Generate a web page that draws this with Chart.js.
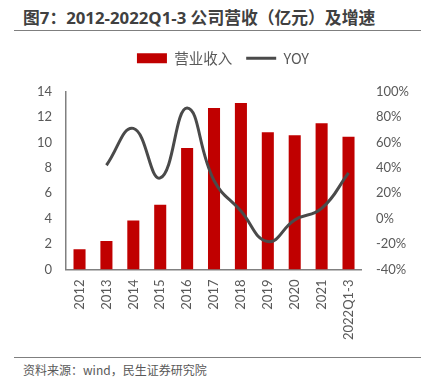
<!DOCTYPE html>
<html>
<head>
<meta charset="utf-8">
<script src="https://cdn.jsdelivr.net/npm/chart.js@4"></script>
<style>
  html, body { margin: 0; padding: 0; background: #fff; }
  body { width: 427px; height: 385px; position: relative; overflow: hidden; font-family: "Noto Sans CJK SC", sans-serif; }
  #title { position: absolute; left: 23px; top: 5px; font-size: 16.8px; font-weight: bold; color: #404040; white-space: nowrap; font-family: "Open Sans", "Noto Sans CJK SC", sans-serif; }
  #topRule { position: absolute; left: 14px; width: 407px; top: 30px; border-top: 1.5px solid #7f7f7f; }
  #bottomRule { position: absolute; left: 14px; width: 407px; top: 357px; border-top: 1.5px solid #7f7f7f; }
  #source { position: absolute; left: 23px; top: 361px; font-size: 12px; color: #595959; white-space: nowrap; }
  #wrap { position: absolute; left: 0; top: 37px; width: 427px; height: 313px; }
</style>
</head>
<body>
<div id="title">图7：2012-2022Q1-3 公司营收（亿元）及增速</div>
<div id="topRule"></div>
<div id="wrap"><canvas id="revenueChart"></canvas></div>
<div id="bottomRule"></div>
<div id="source">资料来源：wind，民生证券研究院</div>
<script>
const years = ['2012', '2013', '2014', '2015', '2016', '2017', '2018', '2019', '2020', '2021', '2022Q1-3'];
const revenue = [1.6, 2.25, 3.85, 5.1, 9.55, 12.7, 13.1, 10.8, 10.55, 11.5, 10.45];
const yoy = [null, 42, 71, 32, 87, 30, 6, -18, -1, 8, 36];

const tickFont = { family: 'Lato, "Open Sans", sans-serif', size: 13 };
const tickColor = '#595959';

const ctx = document.getElementById('revenueChart').getContext('2d');

// push the plot down a bit below the legend
const legendSpace = {
    id: 'legendSpace',
    beforeInit(chart) {
        const fit = chart.legend.fit;
        chart.legend.fit = function () {
            fit.call(this);
            this.height += 16;
        };
    }
};

new Chart(ctx, {
    data: {
        labels: years,
        datasets: [
            {
                type: 'line',
                label: 'YOY',
                data: yoy,
                yAxisID: 'yRight',
                borderColor: '#4a4a4a',
                backgroundColor: '#4a4a4a',
                borderWidth: 3,
                pointRadius: 0,
                tension: 0.45,
                order: 0
            },
            {
                type: 'bar',
                label: '营业收入',
                data: revenue,
                yAxisID: 'y',
                backgroundColor: '#c00000',
                categoryPercentage: 0.8,
                barPercentage: 0.56,
                order: 1
            }
        ]
    },
    options: {
        responsive: true,
        maintainAspectRatio: false,
        animation: false,
        layout: { padding: { left: 23, right: 4, top: 0, bottom: 0 } },
        plugins: {
            tooltip: { enabled: false },
            legend: {
                position: 'top',
                labels: {
                    usePointStyle: true,
                    pointStyleWidth: 30,
                    boxHeight: 10,
                    padding: 14,
                    color: '#595959',
                    font: { family: '"Noto Sans CJK SC", sans-serif', size: 14.5 },
                    generateLabels: chart => [
                        { text: '营业收入', fillStyle: '#c00000', strokeStyle: '#c00000', lineWidth: 0, pointStyle: 'rect', datasetIndex: 1, fontColor: '#595959' },
                        { text: 'YOY', fillStyle: '#4a4a4a', strokeStyle: '#4a4a4a', lineWidth: 3, pointStyle: 'line', datasetIndex: 0, fontColor: '#595959' }
                    ]
                }
            }
        },
        scales: {
            x: {
                grid: { display: false, drawTicks: false },
                border: { color: '#808080', width: 1.5 },
                ticks: { color: tickColor, font: tickFont, minRotation: 90, maxRotation: 90, padding: 10 }
            },
            y: {
                position: 'left',
                min: 0,
                max: 14,
                grid: { display: false, drawTicks: false },
                border: { color: '#808080', width: 1.5 },
                ticks: { stepSize: 2, color: tickColor, font: tickFont, padding: 14 }
            },
            yRight: {
                position: 'right',
                min: -40,
                max: 100,
                grid: { display: false, drawTicks: false },
                border: { display: false },
                ticks: { stepSize: 20, color: tickColor, font: tickFont, padding: 14, callback: v => v + '%' }
            }
        }
    },
    plugins: [legendSpace]
});
</script>
</body>
</html>
